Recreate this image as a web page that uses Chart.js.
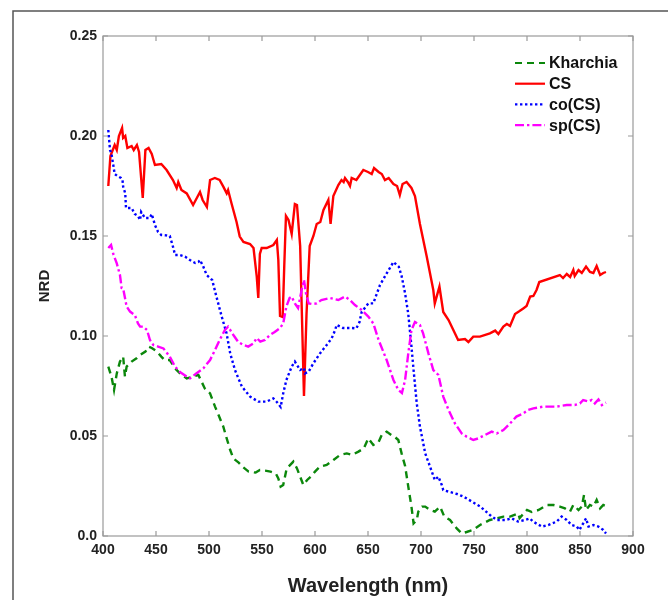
<!DOCTYPE html>
<html>
<head>
<meta charset="utf-8">
<title>NRD</title>
<script src="https://cdn.jsdelivr.net/npm/chart.js@4.4.0/dist/chart.umd.min.js"></script>
<style>
html,body{margin:0;padding:0;background:#fff;}
#wrap{width:668px;height:600px;}
</style>
</head>
<body>
<div id="wrap"><canvas id="chart" width="668" height="600"></canvas></div>
<script>
// wavelength (nm) / NRD values
const khWl = [405,408,410.4,413,416,419,420.7,422.3,427,432,435,440,443,446,451,455,458,463,468,472.6,479,485,490,496,501,505.7,509,513.5,516.7,520,523,528,532.4,537.4,544,548,553,558,563,565.4,567.6,570,573,575,579.6,583,586,589,592.6,596,600,604.7,611,617.4,623.6,630,635,641,646,650.3,655,660,663,667.6,672,675,678.6,681.7,685,688,691,693,696,697.5,701,704,708.5,713,718,722,727.4,733.7,738.4,743,749,755.7,765,771.5,777.7,784,791.8,793,800,804.5,811,818.6,825,831,835.8,840.6,843.7,848.6,851.7,853.8,855.7,859.4,862.6,865.7,869,872,874.5];
const khVal = [0.0847,0.0797,0.073,0.0813,0.0872,0.0897,0.0797,0.0847,0.0872,0.089,0.0905,0.0922,0.0947,0.094,0.0922,0.0897,0.088,0.088,0.0838,0.0813,0.0788,0.0797,0.0805,0.0738,0.0713,0.0647,0.0605,0.0547,0.0488,0.043,0.0388,0.0367,0.0343,0.0322,0.0317,0.033,0.0327,0.0322,0.0313,0.0288,0.0247,0.0255,0.033,0.0347,0.0372,0.0338,0.0297,0.0255,0.028,0.0297,0.0322,0.0347,0.0355,0.038,0.0405,0.0413,0.0405,0.0422,0.0438,0.0488,0.0455,0.047,0.0505,0.0522,0.0505,0.0497,0.048,0.0413,0.035,0.0247,0.0147,0.0063,0.008,0.0122,0.0147,0.0147,0.013,0.0122,0.0147,0.0097,0.008,0.0038,0.0013,0.002,0.003,0.0055,0.008,0.0088,0.0097,0.0097,0.0113,0.009,0.013,0.012,0.013,0.0155,0.0155,0.0147,0.0138,0.0122,0.0155,0.013,0.0147,0.0205,0.013,0.0155,0.0147,0.018,0.0138,0.0155,0.015];

const csWl = [405,407,411,413,415,418,419,421,423,427,429,432,434,437.5,440,443,446,449,455,460,466,469.5,471,474,479,485,491.5,494,498,501,505.5,510,513.5,516.7,518,521.4,526,529,532.5,538.7,542,545,546.5,548,549.7,554.4,560.7,564,565.4,567,569.5,571,572.6,575,578,581,583,586,589.6,592,595,598.5,601.6,605,608,612.6,614.7,617.3,622,625,627,628.3,631,633,634.6,639,645.6,650,653.5,655.7,660,663,666,669.5,674,677.4,680,682.6,686.4,691,694.3,699,705.3,711.6,713,717.4,721,726,730.5,735,741.5,744.7,749.3,755.6,765,770,773,777.7,781,784,788.7,793,796.5,799.6,803,806,809,811.6,831,834,837.5,840.7,843.7,845,848.6,851.7,855.7,859.4,862.6,865.7,869,872,874.5];
const csVal = [0.175,0.19,0.1955,0.193,0.2,0.204,0.199,0.2,0.194,0.195,0.193,0.1955,0.192,0.169,0.193,0.194,0.191,0.1855,0.186,0.183,0.178,0.174,0.177,0.173,0.1713,0.1655,0.172,0.168,0.1645,0.178,0.179,0.178,0.1747,0.1713,0.173,0.166,0.157,0.1497,0.147,0.146,0.144,0.13,0.119,0.141,0.144,0.144,0.1455,0.148,0.138,0.11,0.1095,0.135,0.16,0.158,0.151,0.166,0.1655,0.145,0.07,0.111,0.145,0.15,0.156,0.157,0.163,0.168,0.156,0.17,0.1755,0.178,0.177,0.179,0.177,0.175,0.179,0.178,0.183,0.182,0.181,0.184,0.182,0.181,0.178,0.179,0.176,0.175,0.1705,0.176,0.177,0.174,0.17,0.156,0.14,0.123,0.1163,0.1247,0.112,0.108,0.103,0.098,0.0985,0.097,0.0997,0.0997,0.1013,0.1027,0.101,0.1047,0.106,0.105,0.111,0.1125,0.1138,0.115,0.1197,0.12,0.123,0.127,0.1305,0.129,0.131,0.1295,0.133,0.13,0.133,0.1315,0.1347,0.132,0.1315,0.135,0.1305,0.1315,0.132];

const coWl = [405,406.6,408,410,411,413.6,417,418.4,419,421,421.7,424,427,430,433,435,436,439.6,444,446,449,452,455,459.7,463,466,468,472.6,477.4,482,487,490,491.5,494.6,497.8,503,507,512,516.6,520,524.5,531,538.7,546.5,554.4,560.7,564,567.6,570,573,578,581,586,589.6,590.5,594,598.4,604.7,611,615.7,619,620.4,626.5,634.6,639,642,644,650.3,655,661.3,667.6,674,679,681.7,685,688,691,693,696,699,704,708.5,713,716.4,719.6,721,726,734,740,748,756,765,771.5,779.6,785.6,791.6,798,802.6,805.7,814,820,828,832.7,837.5,842,847,849.4,853,855.7,858,862.6,867.4,872,874.5];
const coVal = [0.203,0.193,0.191,0.1845,0.181,0.18,0.179,0.178,0.1747,0.1713,0.164,0.164,0.164,0.161,0.16,0.158,0.162,0.159,0.159,0.161,0.1555,0.152,0.1505,0.1503,0.15,0.1447,0.1405,0.1405,0.1397,0.138,0.1365,0.137,0.138,0.1347,0.1305,0.128,0.1197,0.1097,0.1013,0.0913,0.083,0.0747,0.0697,0.0672,0.0672,0.0688,0.067,0.0645,0.0713,0.078,0.0847,0.0872,0.083,0.084,0.0813,0.0822,0.0863,0.0913,0.0955,0.0988,0.103,0.1055,0.104,0.104,0.1038,0.107,0.112,0.1163,0.1163,0.1255,0.1313,0.137,0.1347,0.13,0.1213,0.111,0.0947,0.083,0.0663,0.0547,0.0413,0.0347,0.028,0.0297,0.0255,0.023,0.0222,0.021,0.0197,0.0172,0.0147,0.0105,0.008,0.008,0.0088,0.0072,0.008,0.0088,0.0072,0.0047,0.0055,0.0072,0.0097,0.008,0.0055,0.0047,0.003,0.0063,0.0088,0.0047,0.0055,0.0047,0.003,0.0013];

const spWl = [405,407.6,409.7,413,416,417.6,419,422.3,425.5,430,433,435,438,441.5,444.3,447.5,452,457,463,468,472.6,479,482,488,494.6,501,505.7,510,515,518,523,527.6,532.5,537,542,545,548.4,552.8,557.5,562,567,570,573,576,578,581,584,587.4,589.6,591.6,594,597,601.6,606,614,622,628.3,633,637.7,644,650.3,655,660,667.6,674,678.6,682,685,688,691,694.3,699,702,707,711.6,716.4,721,726,732,738.4,743,749.3,754,760.4,766.7,771.5,777.7,784,790,796.5,801,806,815.6,828,837.5,845,850,853,858,861,864,867.4,870.6,874.5];
const spVal = [0.144,0.1455,0.141,0.1363,0.1305,0.124,0.1238,0.1147,0.1122,0.1105,0.1063,0.1047,0.1047,0.103,0.098,0.0955,0.0947,0.0938,0.0897,0.0847,0.082,0.0797,0.0788,0.0813,0.0838,0.088,0.093,0.098,0.103,0.1047,0.1005,0.097,0.0955,0.0947,0.0963,0.099,0.0972,0.098,0.1005,0.102,0.104,0.1063,0.1147,0.119,0.1197,0.1163,0.114,0.123,0.128,0.121,0.1163,0.116,0.1163,0.118,0.119,0.118,0.1197,0.118,0.1155,0.113,0.1097,0.1063,0.098,0.088,0.078,0.073,0.0715,0.078,0.0913,0.103,0.107,0.1055,0.1013,0.0913,0.083,0.0805,0.0697,0.063,0.0563,0.0513,0.0497,0.048,0.0488,0.0505,0.0522,0.0513,0.053,0.0563,0.0597,0.0613,0.063,0.0638,0.0647,0.0647,0.0655,0.0655,0.0663,0.068,0.0672,0.068,0.0663,0.0683,0.0655,0.0667];

const seriesNames = ['Kharchia', 'CS', 'co(CS)', 'sp(CS)'];
const xTicks = [400,450,500,550,600,650,700,750,800,850,900];
const yTicks = [0, 0.05, 0.10, 0.15, 0.20, 0.25];

function toPoints(wl, val){
	return wl.map(function(w, i){ return {x: w, y: val[i]}; });
}

const styles = [
	{color: '#0b870b', dash: [7, 5]},
	{color: '#ff0000', dash: []},
	{color: '#0000ff', dash: [2.4, 2.6]},
	{color: '#ff00ff', dash: [9, 3, 2.4, 3]}
];
const allData = [toPoints(khWl, khVal), toPoints(csWl, csVal), toPoints(coWl, coVal), toPoints(spWl, spVal)];

let datasets = seriesNames.map(function(name, i){
	return {
		label: name,
		data: allData[i],
		borderColor: styles[i].color,
		borderDash: styles[i].dash,
		borderWidth: 2.4,
		pointRadius: 0,
		tension: 0,
		fill: false,
		order: 4 - i
	};
});

// box, inward ticks, frame and legend drawn MATLAB-style
const boxPlugin = {
	id: 'box',
	afterDraw: function(chart){
		let ctx = chart.ctx;
		let a = chart.chartArea;
		let xs = chart.scales.x, ys = chart.scales.y;
		ctx.save();
		ctx.strokeStyle = '#555';
		ctx.lineWidth = 1.5;
		ctx.beginPath();
		ctx.moveTo(13, 600);
		ctx.lineTo(13, 11);
		ctx.lineTo(668, 11);
		ctx.stroke();

		ctx.strokeStyle = '#9a9a9a';
		ctx.lineWidth = 1.2;
		ctx.strokeRect(a.left, a.top, a.right - a.left, a.bottom - a.top);
		ctx.beginPath();
		xTicks.forEach(function(t){
			let px = xs.getPixelForValue(t);
			ctx.moveTo(px, a.bottom); ctx.lineTo(px, a.bottom - 5);
			ctx.moveTo(px, a.top); ctx.lineTo(px, a.top + 5);
		});
		yTicks.forEach(function(t){
			let py = ys.getPixelForValue(t);
			ctx.moveTo(a.left, py); ctx.lineTo(a.left + 5, py);
			ctx.moveTo(a.right, py); ctx.lineTo(a.right - 5, py);
		});
		ctx.stroke();

		// legend
		ctx.font = 'bold 16px "Liberation Sans", Arial, sans-serif';
		ctx.textBaseline = 'middle';
		ctx.fillStyle = '#111';
		let lx = a.right - 118;
		chart.data.datasets.forEach(function(ds, i){
			let ly = a.top + 27 + i * 20.7;
			ctx.strokeStyle = ds.borderColor;
			ctx.lineWidth = 2.2;
			ctx.setLineDash(ds.borderDash);
			ctx.beginPath();
			ctx.moveTo(lx, ly);
			ctx.lineTo(lx + 30, ly);
			ctx.stroke();
			ctx.setLineDash([]);
			ctx.fillText(ds.label, lx + 34, ly + 1);
		});
		ctx.restore();
	}
};

let ctx = document.getElementById('chart');
var myChart = new Chart(ctx, {
	type: 'line',
	data: {datasets: datasets},
	plugins: [boxPlugin],
	options: {
		responsive: false,
		animation: false,
		layout: {padding: {left: 0, top: 36, right: 35, bottom: 0}},
		plugins: {
			legend: {display: false},
			tooltip: {enabled: false}
		},
		scales: {
			x: {
				type: 'linear',
				min: 400,
				max: 900,
				afterBuildTicks: function(s){ s.ticks = xTicks.map(function(v){ return {value: v}; }); },
				afterFit: function(s){ s.height = 64; },
				grid: {display: false, drawTicks: false},
				border: {display: false},
				ticks: {
					padding: 6,
					color: '#222',
					maxRotation: 0,
					font: {family: '"Liberation Sans", Arial, sans-serif', size: 14, weight: 'bold'}
				},
				title: {
					display: true,
					text: 'Wavelength (nm)',
					color: '#222',
					padding: {top: 0, bottom: 2},
					font: {family: '"Liberation Sans", Arial, sans-serif', size: 20, weight: 'bold'}
				}
			},
			y: {
				min: 0,
				max: 0.25,
				afterBuildTicks: function(s){ s.ticks = yTicks.map(function(v){ return {value: v}; }); },
				afterFit: function(s){ s.width = 103; },
				grid: {display: false, drawTicks: false},
				border: {display: false},
				ticks: {
					padding: 6,
					color: '#222',
					font: {family: '"Liberation Sans", Arial, sans-serif', size: 14, weight: 'bold'},
					callback: function(v){ return v === 0 ? '0.0' : v.toFixed(2); }
				},
				title: {
					display: true,
					text: 'NRD',
					color: '#222',
					padding: {top: 36, bottom: 0},
					font: {family: '"Liberation Sans", Arial, sans-serif', size: 15, weight: 'bold'}
				}
			}
		}
	}
});
</script>
</body>
</html>
